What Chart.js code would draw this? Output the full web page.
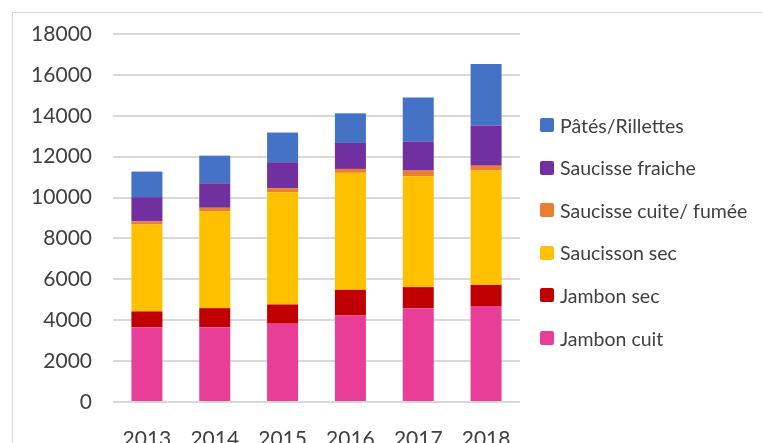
<!DOCTYPE html>
<html>
<head>
<meta charset="utf-8">
<script src="https://cdn.jsdelivr.net/npm/chart.js@4/dist/chart.umd.min.js"></script>
<style>
  html, body { margin: 0; padding: 0; background: #fff; overflow: hidden; width: 763px; height: 443px; }
  #frame { position: absolute; left: 12px; top: 12px; width: 900px; height: 600px; border: 1px solid #d9d9d9; box-sizing: border-box; }
  #wrap { position: absolute; left: 0; top: 0; width: 763px; height: 470px; }
  #legend { position: absolute; left: 540px; top: 0; font-family: Lato, sans-serif; font-size: 19.5px; color: #404040; }
  .item { position: absolute; left: 0; height: 20px; white-space: nowrap; display: flex; align-items: center; }
  .sw { width: 14px; height: 14px; border-radius: 2px; margin-right: 6px; flex: none; }
</style>
</head>
<body>
<div id="frame"></div>
<div id="wrap"><canvas id="c" width="763" height="470"></canvas></div>
<div id="legend"></div>
<script>
const years = ["2013", "2014", "2015", "2016", "2017", "2018"];
const seriesNames = ["Jambon cuit", "Jambon sec", "Saucisson sec", "Saucisse cuite/ fumée", "Saucisse fraiche", "Pâtés/Rillettes"];
const seriesColors = ["#E83E98", "#C00000", "#FFC000", "#ED7D31", "#7030A0", "#4472C4"];
const jambonCuit = [3660, 3660, 3830, 4230, 4590, 4690];
const jambonSec = [770, 930, 940, 1260, 1030, 1040];
const saucissonSec = [4250, 4740, 5490, 5720, 5420, 5590];
const saucisseCuite = [150, 170, 200, 190, 280, 240];
const saucisseFraiche = [1190, 1200, 1270, 1270, 1430, 1960];
const pates = [1250, 1350, 1450, 1450, 2140, 3010];
const yTicks = [0, 2000, 4000, 6000, 8000, 10000, 12000, 14000, 16000, 18000];

const seriesValues = [jambonCuit, jambonSec, saucissonSec, saucisseCuite, saucisseFraiche, pates];

const datasets = seriesNames.map((name, i) => ({
  label: name,
  data: seriesValues[i],
  backgroundColor: seriesColors[i],
  borderWidth: 0,
  barPercentage: 0.457,
  categoryPercentage: 1.0
}));

const tickFont = { family: "Lato, sans-serif", size: 21 };

new Chart(document.getElementById("c"), {
  type: "bar",
  data: { labels: years, datasets: datasets },
  options: {
    responsive: false,
    animation: false,
    layout: { padding: { left: 0, right: 243, top: 34, bottom: 0 } },
    plugins: { legend: { display: false }, tooltip: { enabled: false } },
    scales: {
      x: {
        stacked: true,
        grid: { display: false, drawTicks: false },
        border: { display: false },
        ticks: { font: tickFont, color: "#404040", padding: 25, maxRotation: 0 },
        afterFit: (s) => { s.height = 68; }
      },
      y: {
        stacked: true,
        min: 0,
        max: 18000,
        afterBuildTicks: (s) => { s.ticks = yTicks.map(v => ({ value: v })); },
        grid: { color: "#d9d9d9", lineWidth: 2, drawTicks: false },
        border: { display: false },
        ticks: { font: tickFont, color: "#404040", padding: 21, callback: (v) => String(v) },
        afterFit: (s) => { s.width = 113; }
      }
    }
  }
});

const legend = document.getElementById("legend");
for (let i = seriesNames.length - 1, row = 0; i >= 0; i--, row++) {
  const item = document.createElement("div");
  item.className = "item";
  item.style.top = (125 + row * 42.6 - 10) + "px";
  const sw = document.createElement("span");
  sw.className = "sw";
  sw.style.background = seriesColors[i];
  const tx = document.createElement("span");
  tx.textContent = seriesNames[i];
  item.appendChild(sw);
  item.appendChild(tx);
  legend.appendChild(item);
}
</script>
</body>
</html>
